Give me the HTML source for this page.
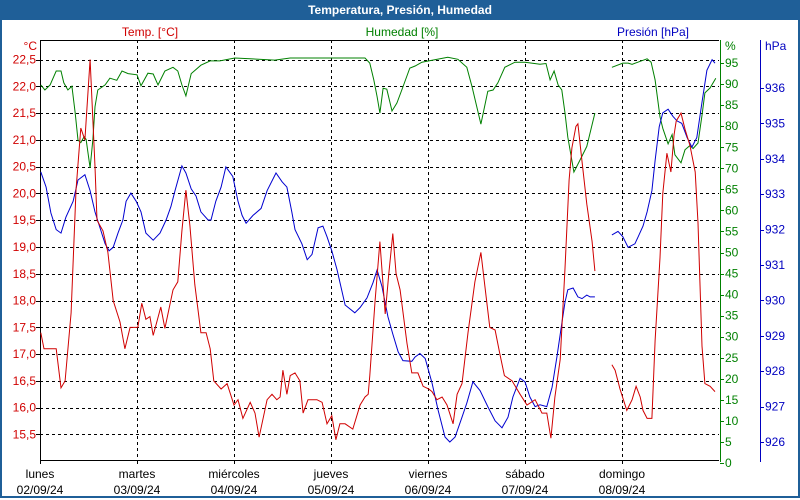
<!DOCTYPE html>
<html><head><meta charset="utf-8">
<style>
body{margin:0;width:800px;height:500px;overflow:hidden;background:#fff;font-family:"Liberation Sans",sans-serif}
#frame{position:absolute;left:0;top:0;width:796px;height:496px;border:2px solid #1f5f98;border-top:none}
#title{position:absolute;left:0;top:0;width:800px;height:20px;background:#1f5f98;color:#fff;font-weight:bold;font-size:12px;text-align:center;line-height:20px}
</style></head>
<body>
<div id="frame"></div>
<div id="title">Temperatura, Presión, Humedad</div>
<svg id="chart" width="800" height="500" style="position:absolute;left:0;top:0"></svg>
<script>
const dayNames=["lunes","martes","miércoles","jueves","viernes","sábado","domingo"];
const dayDates=["02/09/24","03/09/24","04/09/24","05/09/24","06/09/24","07/09/24","08/09/24"];
const tempTicks=[15.5,16.0,16.5,17.0,17.5,18.0,18.5,19.0,19.5,20.0,20.5,21.0,21.5,22.0,22.5];
const humTicks=[0,5,10,15,20,25,30,35,40,45,50,55,60,65,70,75,80,85,90,95];
const presTicks=[926,927,928,929,930,931,932,933,934,935,936];

const tempTimes=[0.2,1.0,4.0,5.2,6.2,7.7,8.9,10.1,11.1,12.4,13.6,14.1,15.6,16.8,18.1,19.8,21.0,22.3,24.2,25.2,26.2,27.2,28.0,29.9,30.9,32.9,34.1,35.1,36.1,37.1,38.3,39.8,41.1,42.1,43.0,44.8,46.3,48.0,49.0,50.2,52.0,53.2,54.2,56.2,57.4,58.6,59.4,60.1,61.1,61.9,63.1,64.3,65.1,66.3,68.5,69.8,71.0,72.2,73.2,74.2,75.5,77.4,79.2,80.4,81.2,81.6,82.9,84.1,85.4,86.3,87.3,88.1,89.1,90.8,92.0,93.5,94.8,96.2,97.0,98.2,99.5,100.7,102.2,103.2,104.4,105.9,107.6,109.1,110.1,111.3,112.6,113.8,114.9,116.8,118.8,120.5,122.5,124.2,125.4,126.4,127.4,128.7,129.9,130.9,131.6,132.6,133.1,134.1,135.3,136.6,137.3,138,141.5,142.3,143.5,145.2,146.5,147.5,148.5,149.2,150.2,151.4,152.2,153.4,154.1,155.1,156.1,156.9,157.4,158.6,159.6,160.8,162.1,162.8,163.8,164.5,165.8,167.0];
const tempValues=[17.4,17.1,17.1,16.37,16.5,17.77,20.06,21.22,21.0,22.5,20.5,19.5,19.3,18.9,18.0,17.6,17.1,17.5,17.5,17.95,17.65,17.7,17.35,17.88,17.48,18.2,18.35,19.3,20.06,19.4,18.3,17.4,17.4,17.1,16.5,16.35,16.45,16.05,16.15,15.8,16.1,15.9,15.45,16.15,16.25,16.15,16.2,16.7,16.25,16.6,16.65,16.5,15.9,16.15,16.15,16.1,15.7,15.85,15.4,15.7,15.7,15.6,16.05,16.2,16.25,16.6,18.0,19.1,17.75,18.5,19.25,18.5,18.2,17.2,16.65,16.65,16.4,16.35,16.3,16.15,16.2,16.05,15.7,16.25,16.45,17.4,18.35,18.9,18.25,17.5,17.45,17.0,16.6,16.5,16.25,16.05,16.15,15.9,15.9,15.43,16.2,16.9,18.6,20.25,20.85,21.25,21.3,20.6,19.8,19.1,18.55,null,16.8,16.7,16.35,15.95,16.15,16.4,16.2,15.95,15.8,15.8,17.25,18.8,20.0,20.75,20.4,21.1,21.35,21.5,21.2,20.9,20.4,19.45,17.15,16.45,16.4,16.3];

const humTimes=[0.2,1.2,2.5,4.0,5.2,5.9,6.9,7.9,8.7,9.4,10.1,10.9,11.4,12.4,13.1,13.6,14.3,16.1,17.3,19.0,20.3,21.8,24.0,25.0,26.7,28.0,29.2,30.9,32.9,34.1,35.1,36.1,37.4,39.8,42.1,44.5,48.2,58.1,61.9,80.4,81.6,82.6,83.4,84.1,84.9,85.8,87.1,88.3,89.8,91.5,92.8,94.5,96.2,100.9,103.4,105.6,106.9,109.1,110.8,112.1,113.3,115.0,117.5,120.0,123.7,125.2,126.2,127.2,128.2,129.1,129.9,130.6,132.1,134.1,135.3,137.3,138,141.5,144.2,145.5,146.5,150.2,151.2,152.2,153.4,154.1,155.4,156.4,157.1,158.6,159.6,160.8,161.6,162.8,163.8,164.5,165.8,167.2];
const humValues=[89.8,88.6,89.8,93.1,93.1,90.3,88.6,89.5,83.1,76.7,76.1,77.5,76.9,70.1,76.9,84.6,88.6,89.8,91.4,90.9,93.1,92.5,92.2,89.6,92.6,92.4,89.8,93.1,94.0,93.1,89.8,87.2,92.5,94.5,95.5,95.5,96.2,95.7,96.2,96.2,95.0,91.0,87.0,83.1,89.0,88.8,83.6,85.5,89.3,93.8,94.3,95.2,95.5,96.4,95.9,94.0,89.3,80.5,88.3,88.6,90.3,94.0,95.2,95.2,94.7,94.9,91.0,93.1,89.8,88.6,83.1,77.4,69.1,72.9,75.2,83.1,null,94.0,95.0,95.0,94.7,96.0,95.2,91.0,82.2,79.5,75.8,78.0,73.2,71.3,74.4,75.4,74.7,76.0,82.6,87.9,89.1,91.4];

const presTimes=[0.2,1.5,2.7,4.0,5.2,6.4,8.2,9.4,11.1,12.4,13.6,14.8,16.1,17.1,18.1,19.3,20.5,21.3,22.5,23.8,25.0,26.2,28.0,29.7,31.2,32.4,33.4,35.1,36.1,37.4,38.6,39.8,41.6,42.3,43.5,44.8,46.0,47.7,49.0,50.0,51.0,52.7,54.7,56.2,58.4,59.9,61.1,62.3,63.1,64.8,66.1,67.3,68.8,70.0,71.0,72.2,73.5,75.5,77.9,79.2,80.9,82.4,83.4,84.6,86.1,87.3,88.6,89.8,92.0,92.8,94.0,95.3,97.0,98.5,100.2,101.4,102.7,104.4,105.6,107.1,108.9,110.8,112.6,114.3,115.8,117.0,118.8,120.0,121.2,122.5,123.7,125.4,126.7,127.9,129.1,129.9,130.6,131.9,133.1,134.1,135.3,136.1,137.3,138,141.5,143.0,144.2,145.5,147.2,148.0,149.2,150.2,151.4,152.2,153.2,154.1,155.4,156.6,157.6,158.8,160.1,161.3,162.5,163.8,165.0,166.3,167.0];
const presValues=[933.63,933.2,932.47,932.0,931.9,932.35,932.8,933.4,933.55,933.1,932.5,932.07,931.6,931.4,931.5,931.9,932.27,932.8,933.03,932.8,932.5,931.9,931.7,931.9,932.27,932.65,933.1,933.8,933.6,933.15,932.95,932.5,932.27,932.27,932.8,933.2,933.77,933.5,932.8,932.4,932.18,932.4,932.6,933.1,933.6,933.35,933.2,932.5,932.0,931.6,931.15,931.3,932.05,932.1,931.8,931.4,930.86,929.87,929.65,929.8,930.07,930.5,930.86,930.4,929.53,929.05,928.55,928.3,928.28,928.4,928.5,928.36,927.67,926.9,926.14,926.0,926.14,926.7,927.1,927.7,927.45,927.0,926.6,926.4,926.7,927.27,927.8,927.7,927.27,927.0,927.05,927.0,927.55,928.4,929.35,929.95,930.3,930.35,930.1,930.05,930.15,930.1,930.1,null,931.85,931.95,931.8,931.5,931.6,931.8,932.1,932.5,933.1,933.95,934.9,935.3,935.4,935.2,935.07,935.0,934.6,934.33,934.6,935.6,936.5,936.8,936.7];

const X0=40,X1=719,TOP=40,BOT=460;
function xScale(h){return X0+h*(X1-X0)/168;}
function yTemp(t){return 59.5+(22.5-t)*53.57;}
function yHum(v){return 463-v*4.21;}
function yPres(p){return 88+(936-p)*35.4;}

const svg=document.getElementById('chart');
const NS='http://www.w3.org/2000/svg';
function mk(tag,attrs,parent){const e=document.createElementNS(NS,tag);for(const k in attrs)e.setAttribute(k,attrs[k]);(parent||svg).appendChild(e);return e;}
function txt(s,x,y,anchor,color,size){const t=mk('text',{x:x,y:y,'text-anchor':anchor,fill:color,'font-size':size||12,'font-family':'Liberation Sans, sans-serif'});t.textContent=s;return t;}

// grid
const grid=mk('g',{});


tempTicks.forEach(t=>{const y=Math.round(yTemp(t))+0.5;const l=mk('line',{x1:X0,x2:X1,y1:y,y2:y,stroke:'#000','stroke-dasharray':'3,3'},grid);

});
for(let d=1;d<7;d++){const x=Math.round(xScale(d*24))+0.5;const l=mk('line',{x1:x,x2:x,y1:TOP,y2:BOT,stroke:'#000','stroke-dasharray':'3,3'},grid);

}

// axes
const ax=mk('g',{});


mk('line',{x1:X0+0.5,x2:X0+0.5,y1:TOP,y2:BOT,stroke:'#000'},ax);
mk('line',{x1:X0,x2:X1,y1:TOP+0.5,y2:TOP+0.5,stroke:'#000'},ax);
mk('line',{x1:X0,x2:X1,y1:BOT+0.5,y2:BOT+0.5,stroke:'#000'},ax);
mk('line',{x1:720.5,x2:720.5,y1:TOP,y2:BOT+2,stroke:'#008000'},ax);
mk('line',{x1:760.5,x2:760.5,y1:TOP,y2:BOT+2,stroke:'#0000c0'},ax);

// temp labels
txt('°C',37,50,'end','#d00000');
tempTicks.forEach(t=>{const y=yTemp(t);const e=txt(t.toFixed(1).replace('.',','),36,y+4,'end','#d00000');


mk('line',{x1:36,x2:40,y1:Math.round(y)+0.5,y2:Math.round(y)+0.5,stroke:'#000'},ax);});
// humidity labels
txt('%',725,50,'start','#008000');
humTicks.forEach(v=>{const y=yHum(v);const e=txt(String(v),725,y+4,'start','#008000');


mk('line',{x1:720,x2:724,y1:Math.round(y)+0.5,y2:Math.round(y)+0.5,stroke:'#008000'},ax);});
// pressure labels
txt('hPa',765,50,'start','#0000c0');
presTicks.forEach(p=>{const y=yPres(p);const e=txt(String(p),765,y+4,'start','#0000c0');


mk('line',{x1:760,x2:764,y1:Math.round(y)+0.5,y2:Math.round(y)+0.5,stroke:'#0000c0'},ax);});
// day labels
dayNames.forEach((n,i)=>{const x=xScale(i*24);
mk('line',{x1:Math.round(x)+0.5,x2:Math.round(x)+0.5,y1:BOT,y2:BOT+4,stroke:'#000'},ax);
const a=txt(n,x,478,'middle','#000');


const b=txt(dayDates[i],x,494,'middle','#000');

});

// series titles
const t1=txt('Temp. [°C]',150,36,'middle','#d00000');


const t2=txt('Humedad [%]',402,36,'middle','#008000');


const t3=txt('Presión [hPa]',653,36,'middle','#0000c0');



function pathFor(times,vals,yf){let d='',pen=false;
for(let i=0;i<times.length;i++){if(vals[i]===null){pen=false;continue;}
d+=(pen?'L':'M')+xScale(times[i]).toFixed(1)+' '+yf(vals[i]).toFixed(1);pen=true;}return d;}
const ph=mk('path',{d:pathFor(humTimes,humValues,yHum),fill:'none',stroke:'#008000','stroke-width':1});


const pp=mk('path',{d:pathFor(presTimes,presValues,yPres),fill:'none',stroke:'#0000d0','stroke-width':1});


const pt=mk('path',{d:pathFor(tempTimes,tempValues,yTemp),fill:'none',stroke:'#d00000','stroke-width':1});


</script>
</body></html>
